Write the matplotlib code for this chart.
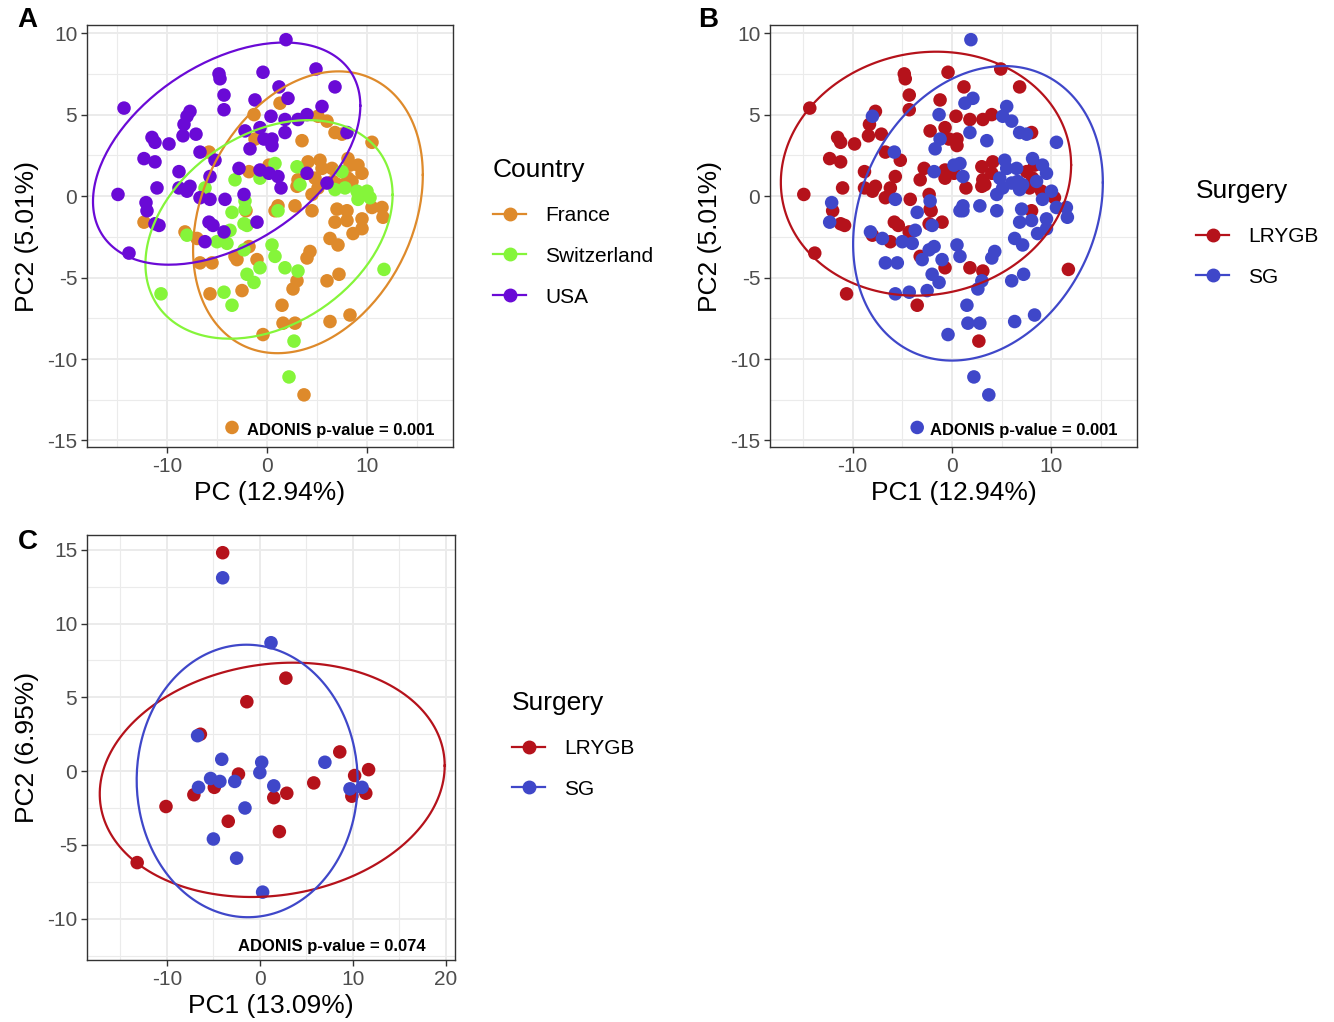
import numpy as np
import matplotlib.pyplot as plt
from matplotlib.lines import Line2D

plt.rcParams['font.family'] = ['Liberation Sans', 'DejaVu Sans']
plt.rcParams['axes.unicode_minus'] = False

# ---- cohort PCA (panels A and B), one list per country ----
FR_PC1 = [1.3, 5.1, 6.0, 6.8, 7.5, 3.5, 10.5, 4.1, 5.3, 5.5,
          6.5, 8.1, 8.3, 9.1, 9.5, 3.1, 3.0, 4.8, 5.1, 4.5,
          6.6, 7.1, 8.1, 8.5, 1.1, 0.8, 2.8, 4.5, 7.0, 8.0,
          10.5, 11.5, 6.8, 8.0, 9.5, 9.5, 8.6, 11.6, 6.3, 7.1,
          4.3, 4.0, 6.0, 7.2, 3.0, 2.6, 1.5, 1.6, 2.8, 6.3,
          8.3, -0.4, 3.7, -12.3, -8.2, -7.0, -6.7, -5.5, -3.2, -3.0,
          -1.8, -1.0, -5.7, -2.5, -2.1, -3.5, -5.8, -1.3, -1.2, -1.8,
          0.2]
FR_PC2 = [5.7, 4.9, 4.6, 3.9, 3.8, 3.4, 3.3, 2.1, 2.2, 1.7,
          1.7, 2.3, 1.9, 1.9, 1.4, 1.0, 0.6, 1.1, 0.5, 0.1,
          0.9, 0.7, 1.1, 0.9, -0.6, -0.9, -0.6, -0.9, -0.8, -0.9,
          -0.7, -0.7, -1.6, -1.5, -1.4, -2.0, -2.3, -1.3, -2.6, -3.0,
          -3.4, -3.8, -5.2, -4.8, -5.2, -5.7, -6.7, -7.8, -7.8, -7.7,
          -7.3, -8.5, -12.2, -1.6, -2.2, -2.6, -4.1, -4.1, -3.7, -3.9,
          -3.1, -3.9, -6.0, -5.8, -0.9, -14.2, 2.7, 5.0, 3.5, 1.5,
          1.9]
FR_SURGERY = ['SG'] * 71
for i in [7, 12, 15, 16, 22, 29, 58, 64]:
    FR_SURGERY[i] = 'LRYGB'

CH_PC1 = [0.8, 3.0, 3.3, 7.5, 6.8, 7.8, 9.0, 10.0, 10.3, 9.1,
          1.1, -3.2, -0.7, -6.2, -2.2, -3.5, -2.2, -2.3, -2.0, -3.7,
          -8.0, -5.0, -4.0, -2.3, -0.7, -2.0, -1.3, -4.3, -3.5, -10.6,
          0.5, 0.8, 1.8, 3.1, 11.7, 2.7, 2.2]
CH_PC2 = [2.0, 1.8, 0.7, 1.5, 0.4, 0.5, 0.3, 0.3, -0.1, -0.2,
          -0.9, 1.0, 1.1, 0.5, -0.3, -1.0, -0.8, -1.7, -1.8, -2.1,
          -2.4, -2.8, -2.9, -3.3, -4.4, -4.8, -5.3, -5.9, -6.7, -6.0,
          -3.0, -3.7, -4.4, -4.6, -4.5, -8.9, -11.1]
CH_SURGERY = ['SG', 'LRYGB', 'LRYGB', 'LRYGB', 'SG', 'LRYGB', 'LRYGB', 'SG', 'LRYGB', 'SG',
              'SG', 'LRYGB', 'LRYGB', 'LRYGB', 'SG', 'SG', 'LRYGB', 'LRYGB', 'SG', 'SG',
              'LRYGB', 'SG', 'SG', 'SG', 'LRYGB', 'SG', 'SG', 'SG', 'LRYGB', 'LRYGB',
              'SG', 'SG', 'LRYGB', 'LRYGB', 'LRYGB', 'LRYGB', 'SG']

US_PC1 = [1.9, -14.3, -4.8, -4.7, -4.3, -4.3, -0.4, -1.2, 0.4, -7.7,
          -8.0, -8.3, -8.4, -7.1, -11.5, -11.2, -9.8, -12.3, -11.2, -6.7,
          -5.2, -2.2, -0.7, -0.3, -1.7, -2.8, -0.7, 0.2, -8.8, -5.7,
          -14.9, -11.0, -8.8, -8.0, -7.7, -6.7, -5.7, -4.2, -2.3, -12.1,
          -12.0, -11.2, -10.8, -13.8, -5.8, -5.4, -6.2, -4.3, -1.0, 4.9,
          6.8, 1.2, 2.1, 5.5, 1.8, 3.1, 4.0, 8.0, 0.5, 0.5,
          1.8, 4.0, 1.1, 1.4, 6.0]
US_PC2 = [9.6, 5.4, 7.5, 7.2, 6.2, 5.3, 7.6, 5.9, 4.9, 5.2,
          4.9, 4.4, 3.7, 3.8, 3.6, 3.3, 3.2, 2.3, 2.1, 2.7,
          2.2, 4.0, 4.2, 3.5, 2.9, 1.7, 1.6, 1.4, 1.5, 1.2,
          0.1, 0.5, 0.5, 0.3, 0.6, -0.1, -0.2, -0.2, 0.1, -0.4,
          -0.9, -1.7, -1.8, -3.5, -1.6, -1.8, -2.8, -2.2, -1.6, 7.8,
          6.7, 6.7, 6.0, 5.5, 4.7, 4.7, 5.0, 3.9, 3.5, 3.1,
          3.9, 1.4, 1.2, 0.5, 0.8]
US_SURGERY = ['LRYGB'] * 65
for i in [0, 10, 24, 36, 39, 52, 53, 60, 62, 64]:
    US_SURGERY[i] = 'SG'

# ---- second cohort (panel C) ----
C_LRYGB_PC1 = [-4.0, -1.4, -6.4, -2.3, -4.9, -7.1, -10.1, -3.4, -13.2, 2.8,
               8.6, 5.8, 1.5, 2.9, 2.1, 10.2, 11.7, 9.9, 11.4]
C_LRYGB_PC2 = [14.8, 4.7, 2.5, -0.2, -1.1, -1.6, -2.4, -3.4, -6.2, 6.3,
               1.3, -0.8, -1.8, -1.5, -4.1, -0.3, 0.1, -1.7, -1.5]
C_SG_PC1 = [-4.0, 1.2, -6.7, -4.1, 0.2, 0.0, -2.7, -5.3, -4.3, -6.6,
            -1.6, -5.0, -2.5, 0.3, 7.0, 1.5, 9.7, 11.0]
C_SG_PC2 = [13.1, 8.7, 2.4, 0.8, 0.6, -0.1, -0.7, -0.5, -0.7, -1.1,
            -2.5, -4.6, -5.9, -8.2, 0.6, -1.0, -1.2, -1.1]

COUNTRY_COLORS = {'France': '#DE8A2B', 'Switzerland': '#85F53A', 'USA': '#6A0AD6'}
SURGERY_COLORS = {'LRYGB': '#B5121B', 'SG': '#3F47C9'}


def cov_trob(pts, nu=5, maxit=25, tol=0.01):
    # multivariate t fit, like MASS::cov.trob used by stat_ellipse
    n, p = pts.shape
    loc = pts.mean(axis=0)
    w = np.ones(n)
    X = pts - loc
    for _ in range(maxit):
        w0 = w
        X = pts - loc
        sw = np.sqrt(w / w.sum())
        _, d, vt = np.linalg.svd(sw[:, None] * X, full_matrices=False)
        wX = X @ vt.T @ np.diag(1 / d)
        Q = (wX ** 2).sum(axis=1)
        w = (nu + p) / (nu + Q)
        loc = (w[:, None] * pts).sum(axis=0) / w.sum()
        if np.all(np.abs(w - w0) < tol):
            break
    sX = np.sqrt(w)[:, None] * X
    return loc, sX.T @ sX / n


def ellipse(xs, ys, level=0.95):
    pts = np.column_stack([xs, ys])
    center, shape = cov_trob(pts)
    dfd = len(pts) - 1
    fq = dfd / 2 * ((1 - level) ** (-2 / dfd) - 1)
    radius = np.sqrt(2 * fq)
    ang = np.linspace(0, 2 * np.pi, 200)
    circ = np.column_stack([np.cos(ang), np.sin(ang)])
    e = center + radius * circ @ np.linalg.cholesky(shape).T
    return e[:, 0], e[:, 1]


def style(ax, xlim, ylim, xt, yt, xlab, ylab):
    ax.set_xticks(xt)
    ax.set_yticks(yt)
    dx = (xt[1] - xt[0]) / 2
    dy = (yt[1] - yt[0]) / 2
    ax.set_xticks(np.arange(xt[0] - dx, xt[-1] + dx * 1.5, 2 * dx), minor=True)
    ax.set_yticks(np.arange(yt[0] - dy, yt[-1] + dy * 1.5, 2 * dy), minor=True)
    ax.set_xlim(xlim)
    ax.set_ylim(ylim)
    ax.grid(which='major', color='#EBEBEB', lw=1.4)
    ax.grid(which='minor', color='#EBEBEB', lw=0.8)
    ax.set_axisbelow(True)
    ax.tick_params(which='minor', length=0)
    ax.tick_params(which='major', length=4, width=1, color='#333333',
                   labelcolor='#4D4D4D', labelsize=15, pad=3)
    for s in ax.spines.values():
        s.set_color('#333333')
        s.set_linewidth(1)
    ax.set_xlabel(xlab, fontsize=19, labelpad=4)
    ax.set_ylabel(ylab, fontsize=19, labelpad=6)


def legend(fig, title, colors, x, y):
    handles = [Line2D([0], [0], color=c, lw=1.6, marker='o', ms=9) for c in colors.values()]
    lg = fig.legend(handles, list(colors.keys()), title=title, loc='upper left',
                    bbox_to_anchor=(x, y), frameon=False, fontsize=15, title_fontsize=19,
                    handlelength=1.6, handletextpad=0.9, labelspacing=1.05,
                    borderpad=0, borderaxespad=0, alignment='left')
    lg.get_title().set_position((0, 2))
    return lg


fig = plt.figure(figsize=(13.34, 10.22), dpi=100)
axA = fig.add_axes([87 / 1334, 1 - 447 / 1022, 366 / 1334, 422 / 1022])
axB = fig.add_axes([770 / 1334, 1 - 447 / 1022, 367 / 1334, 422 / 1022])
axC = fig.add_axes([87 / 1334, 1 - 960 / 1022, 368 / 1334, 425 / 1022])

cohort = {
    'France': (FR_PC1, FR_PC2, FR_SURGERY),
    'Switzerland': (CH_PC1, CH_PC2, CH_SURGERY),
    'USA': (US_PC1, US_PC2, US_SURGERY),
}

# panel A
for name, (x, y, _) in cohort.items():
    axA.scatter(x, y, s=95, color=COUNTRY_COLORS[name], edgecolors='none', zorder=3)
for name, (x, y, _) in cohort.items():
    ex, ey = ellipse(x, y)
    axA.plot(ex, ey, color=COUNTRY_COLORS[name], lw=1.6, zorder=4)

# panel B
all_x = np.array(FR_PC1 + CH_PC1 + US_PC1)
all_y = np.array(FR_PC2 + CH_PC2 + US_PC2)
all_s = np.array(FR_SURGERY + CH_SURGERY + US_SURGERY)
for name in ['LRYGB', 'SG']:
    m = all_s == name
    axB.scatter(all_x[m], all_y[m], s=95, color=SURGERY_COLORS[name], edgecolors='none', zorder=3)
for name in ['LRYGB', 'SG']:
    m = all_s == name
    ex, ey = ellipse(all_x[m], all_y[m])
    axB.plot(ex, ey, color=SURGERY_COLORS[name], lw=1.6, zorder=4)

# panel C
c_data = {'LRYGB': (C_LRYGB_PC1, C_LRYGB_PC2), 'SG': (C_SG_PC1, C_SG_PC2)}
for name, (x, y) in c_data.items():
    axC.scatter(x, y, s=95, color=SURGERY_COLORS[name], edgecolors='none', zorder=3)
for name, (x, y) in c_data.items():
    ex, ey = ellipse(x, y)
    axC.plot(ex, ey, color=SURGERY_COLORS[name], lw=1.6, zorder=4)

style(axA, (-18.0, 18.6), (-15.4, 10.5), [-10, 0, 10], [-15, -10, -5, 0, 5, 10],
      'PC (12.94%)', 'PC2 (5.01%)')
style(axB, (-18.3, 18.6), (-15.4, 10.5), [-10, 0, 10], [-15, -10, -5, 0, 5, 10],
      'PC1 (12.94%)', 'PC2 (5.01%)')
style(axC, (-18.6, 21.0), (-12.8, 16.0), [-10, 0, 10, 20], [-10, -5, 0, 5, 10, 15],
      'PC1 (13.09%)', 'PC2 (6.95%)')

axA.text(-2.0, -14.4, 'ADONIS p-value = 0.001', fontsize=12, fontweight='bold', va='center', zorder=5)
axB.text(-2.2, -14.4, 'ADONIS p-value = 0.001', fontsize=12, fontweight='bold', va='center', zorder=5)
axC.text(-2.3, -11.9, 'ADONIS p-value = 0.074', fontsize=12, fontweight='bold', va='center', zorder=5)

legend(fig, 'Country', COUNTRY_COLORS, 493 / 1334, 1 - 160 / 1022)
legend(fig, 'Surgery', SURGERY_COLORS, 1196 / 1334, 1 - 181 / 1022)
legend(fig, 'Surgery', SURGERY_COLORS, 512 / 1334, 1 - 693 / 1022)

for lab, px, py in [('A', 27, 20), ('B', 708, 20), ('C', 28, 542)]:
    fig.text(px / 1334, 1 - py / 1022, lab, fontsize=20, fontweight='bold', ha='center', va='center')

fig.savefig('out.png', dpi=100)
